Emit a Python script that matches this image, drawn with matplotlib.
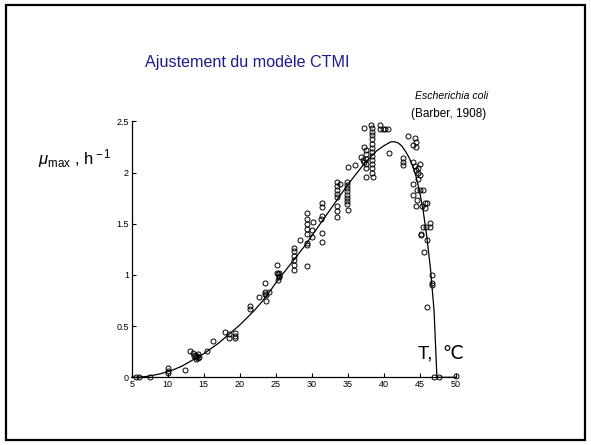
import matplotlib
matplotlib.use("Agg")
import matplotlib.pyplot as plt
from matplotlib.patches import Rectangle

plt.rcParams['font.family'] = ['Liberation Sans', 'DejaVu Sans']
plt.rcParams['mathtext.fontset'] = 'custom'
plt.rcParams['mathtext.rm'] = 'Liberation Sans'
plt.rcParams['mathtext.it'] = 'Liberation Sans:italic'

# observed growth rates (T in degC, mu_max in 1/h)
obs_T = [5.6, 6.0, 7.5,
         10.0, 10.0, 10.0, 12.4,
         13.1, 13.5, 13.6, 13.8, 13.9, 14.0, 14.1, 14.2, 14.2, 14.3,
         15.5, 16.3, 18.0, 18.5, 18.5, 19.4, 19.4, 19.4,
         21.5, 21.5, 22.7,
         23.5, 23.5, 23.5, 23.6, 23.6, 24.1,
         25.2, 25.2, 25.3, 25.4, 25.4, 25.3, 25.5,
         27.5, 27.5, 27.5, 27.5, 27.5, 27.5,
         28.4, 29.3, 29.3,
         29.3, 29.3, 29.3, 29.3, 29.3, 29.3,
         30.0, 30.0, 30.2,
         31.4, 31.4, 31.4, 31.3, 31.4, 31.4,
         33.5, 33.5, 33.5, 33.5, 33.5, 33.5, 33.5, 33.5, 33.9,
         34.9, 34.9, 34.9, 34.9, 34.9, 34.9, 34.9, 34.9, 35.0,
         35.1, 36.0,
         36.9, 37.1, 37.3, 37.6, 37.2, 37.3,
         37.6, 37.6, 37.6, 37.6, 37.6,
         38.3, 38.4, 38.4, 38.4, 38.4, 38.4, 38.4, 38.4, 38.4, 38.4, 38.4, 38.4, 38.4, 38.5,
         39.5, 39.5, 39.9, 40.2, 40.6, 40.8,
         42.7, 42.7, 42.7,
         43.4, 44.1, 44.4, 44.5, 44.5,
         44.1, 44.3, 44.5, 44.7, 45.0, 44.8, 45.1,
         44.1, 44.8, 44.6, 45.0, 45.5, 44.1, 44.6, 45.7, 46.0, 45.3, 44.5, 45.7,
         45.5, 45.9, 46.4, 46.4, 45.2, 45.2, 46.0, 45.6,
         46.75, 46.75, 46.75, 46.05,
         47.0, 47.7, 50.0]
obs_mu = [0.0, 0.0, 0.0,
          0.09, 0.065, 0.04, 0.07,
          0.26, 0.24, 0.21, 0.22, 0.20, 0.18, 0.21, 0.19, 0.23, 0.20,
          0.26, 0.35, 0.445, 0.42, 0.38, 0.435, 0.405, 0.38,
          0.70, 0.665, 0.78,
          0.92, 0.83, 0.815, 0.80, 0.745, 0.83,
          1.10, 1.02, 1.005, 0.99, 0.975, 0.955, 1.015,
          1.26, 1.23, 1.18, 1.15, 1.10, 1.05,
          1.34, 1.31, 1.09,
          1.60, 1.55, 1.50, 1.45, 1.40, 1.29,
          1.44, 1.37, 1.52,
          1.70, 1.66, 1.58, 1.55, 1.41, 1.32,
          1.91, 1.87, 1.83, 1.79, 1.76, 1.67, 1.62, 1.57, 1.89,
          1.91, 1.88, 1.85, 1.82, 1.78, 1.75, 1.72, 1.69, 1.63,
          2.05, 2.07,
          2.15, 2.12, 2.10, 2.13, 2.25, 2.43,
          2.22, 2.18, 2.08, 2.04, 1.96,
          2.46, 2.43, 2.40, 2.37, 2.33, 2.28, 2.24, 2.20, 2.16, 2.12, 2.08, 2.04, 2.00, 1.96,
          2.46, 2.42, 2.42, 2.42, 2.42, 2.19,
          2.14, 2.10, 2.07,
          2.36, 2.27, 2.34, 2.30, 2.25,
          2.10, 2.06, 2.02, 2.00, 1.98, 2.04, 2.08,
          1.89, 1.94, 1.83, 1.83, 1.83, 1.78, 1.73, 1.70, 1.70, 1.67, 1.67, 1.65,
          1.47, 1.47, 1.47, 1.51, 1.40, 1.39, 1.34, 1.22,
          1.00, 0.92, 0.90, 0.69,
          0.0, 0.0, 0.01]

# fitted CTMI curve
fit_T = [5, 5.5, 6, 7, 8, 9, 10, 11, 12, 13, 14, 15, 16, 17, 18, 19, 20,
         21, 22, 23, 24, 25, 26, 27, 28, 29, 30, 31, 32, 33, 34, 35, 36,
         37, 38, 39, 40, 40.5, 41, 41.5, 42, 42.5, 43, 43.5, 44, 44.5,
         45, 45.5, 46, 46.5, 47, 47.4, 50]
fit_mu = [0, 0, 0.001, 0.008, 0.02, 0.035, 0.055, 0.08, 0.11, 0.15, 0.19, 0.23,
          0.28, 0.33, 0.39, 0.45, 0.51, 0.58, 0.65, 0.73, 0.82, 0.92, 1.01,
          1.10, 1.19, 1.28, 1.38, 1.48, 1.58, 1.68, 1.78, 1.88, 1.97, 2.06,
          2.14, 2.21, 2.26, 2.28, 2.30, 2.30, 2.29, 2.26, 2.21, 2.15, 2.07,
          1.96, 1.81, 1.62, 1.37, 1.06, 0.65, 0.0, 0.0]

x_ticks = [5, 10, 15, 20, 25, 30, 35, 40, 45, 50]
y_ticks = [0, 0.5, 1, 1.5, 2, 2.5]
y_tick_labels = ['0', '0.5', '1', '1.5', '2', '2.5']

fig = plt.figure(figsize=(5.91, 4.45), dpi=100)
fig.patch.set_facecolor('white')
fig.patches.append(Rectangle((6 / 591, 5 / 445), 579 / 591, 435 / 445,
                             transform=fig.transFigure, fill=False,
                             edgecolor='black', linewidth=1.6))

ax = fig.add_axes([0.2228, 0.1521, 0.5482, 0.5753])
ax.plot(fit_T, fit_mu, color='black', linewidth=0.9, clip_on=False, zorder=2)
ax.plot(obs_T, obs_mu, linestyle='none', marker='o', markersize=3.6,
        markerfacecolor='none', markeredgecolor='black', markeredgewidth=0.7,
        clip_on=False, zorder=3)

ax.set_xlim(5, 50)
ax.set_ylim(0, 2.5)
ax.set_xticks(x_ticks)
ax.set_yticks(y_ticks)
ax.set_yticklabels(y_tick_labels)
for s in ['top', 'right']:
    ax.spines[s].set_visible(False)
for s in ['left', 'bottom']:
    ax.spines[s].set_linewidth(0.9)
ax.tick_params(direction='in', length=3, width=0.8, labelsize=6.5, pad=2)

fig.text(0.418, 0.860, 'Ajustement du modèle CTMI', color='#1c1c8a',
         fontsize=11.6, ha='center', va='center')
fig.text(0.702, 0.784, 'Escherichia coli', fontsize=7.6, style='italic',
         ha='left', va='center')
fig.text(0.696, 0.744, '(Barber, 1908)', fontsize=8.5, ha='left', va='center')
fig.text(0.065, 0.644, r'$\mu_{\rm max}$ , h$^{\rm -1}$', fontsize=12,
         ha='left', va='center')
fig.text(0.708, 0.205, 'T,  ℃', fontsize=13.5, ha='left', va='center',
         family=['Liberation Sans', 'DejaVu Sans'])

fig.savefig('out.png', dpi=100)
